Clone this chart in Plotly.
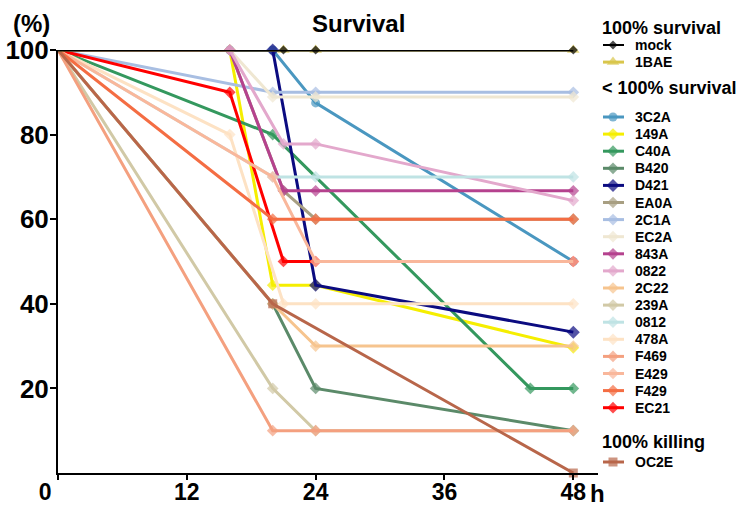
import plotly.graph_objects as go

# Sampling times (h) and survival (%) per isolate
mock_t = [0, 21, 24, 48];        mock_v = [100, 100, 100, 100]
bae_t = [0, 21, 24, 48];         bae_v = [100, 100, 100, 100]
c3c2a_t = [0, 16, 20, 24, 48];   c3c2a_v = [100, 100, 100, 87.5, 50]
a149_t = [0, 16, 20, 24, 48];    a149_v = [100, 100, 44.4, 44.4, 29.6]
c40a_t = [0, 20, 44, 48];        c40a_v = [100, 80, 20, 20]
b420_t = [0, 20, 24, 48];        b420_v = [100, 40, 20, 10]
d421_t = [0, 20, 24, 48];        d421_v = [100, 100, 44.4, 33.3]
ea0a_t = [0, 16, 21, 24, 48];    ea0a_v = [100, 100, 66.7, 60, 60]
c2c1a_t = [0, 20, 24, 48];       c2c1a_v = [100, 90, 90, 90]
ec2a_t = [0, 16, 20, 24, 48];    ec2a_v = [100, 100, 88.9, 88.9, 88.9]
a843_t = [0, 16, 21, 24, 48];    a843_v = [100, 100, 66.7, 66.7, 66.7]
n0822_t = [0, 16, 21, 24, 48];   n0822_v = [100, 100, 77.8, 77.8, 64.4]
c2c22_t = [0, 20, 24, 48];       c2c22_v = [100, 40, 30, 30]
a239_t = [0, 20, 24, 48];        a239_v = [100, 20, 10, 10]
n0812_t = [0, 20, 24, 48];       n0812_v = [100, 70, 70, 70]
a478_t = [0, 16, 21, 24, 48];    a478_v = [100, 80, 40, 40, 40]
f469_t = [0, 20, 24, 48];        f469_v = [100, 10, 10, 10]
e429_t = [0, 20, 24, 48];        e429_v = [100, 70, 50, 50]
f429_t = [0, 20, 24, 48];        f429_v = [100, 60, 60, 60]
ec21_t = [0, 16, 21, 24, 48];    ec21_v = [100, 90, 50, 50, 50]
oc2e_t = [0, 20, 48];            oc2e_v = [100, 40, 0]

x_ticks = [0, 12, 24, 36, 48]
x_ticktext = ["0\u00a0\u00a0\u00a0\u00a0", "12", "24", "36", "48"]
y_ticks = [20, 40, 60, 80, 100]

G1 = "100% survival"
G2 = "< 100% survival"
G3 = "100% killing"
groups = [G1, G2, G3]

# name -> (times, values, colour, symbol, marker size, group)
series = {
    "mock": (mock_t, mock_v, "#000000", "diamond", 7, G1),
    "1BAE": (bae_t, bae_v, "#d9c64c", "triangle-up", 11, G1),
    "3C2A": (c3c2a_t, c3c2a_v, "#4a97c0", "circle", 9, G2),
    "149A": (a149_t, a149_v, "#f5ee00", "diamond", 9, G2),
    "C40A": (c40a_t, c40a_v, "#34985e", "diamond", 9, G2),
    "B420": (b420_t, b420_v, "#5b8a69", "diamond", 9, G2),
    "D421": (d421_t, d421_v, "#0b0b80", "diamond", 10, G2),
    "EA0A": (ea0a_t, ea0a_v, "#a89f82", "diamond", 9, G2),
    "2C1A": (c2c1a_t, c2c1a_v, "#a8bee2", "diamond", 9, G2),
    "EC2A": (ec2a_t, ec2a_v, "#efe7d2", "diamond", 9, G2),
    "843A": (a843_t, a843_v, "#b5428e", "diamond", 9, G2),
    "0822": (n0822_t, n0822_v, "#e3a8cc", "diamond", 9, G2),
    "2C22": (c2c22_t, c2c22_v, "#f6c48e", "diamond", 9, G2),
    "239A": (a239_t, a239_v, "#d1c9a6", "diamond", 9, G2),
    "0812": (n0812_t, n0812_v, "#bfe3e4", "diamond", 9, G2),
    "478A": (a478_t, a478_v, "#fde2c4", "diamond", 9, G2),
    "F469": (f469_t, f469_v, "#f4a07f", "diamond", 9, G2),
    "E429": (e429_t, e429_v, "#f9b79b", "diamond", 9, G2),
    "F429": (f429_t, f429_v, "#f46d43", "diamond", 9, G2),
    "EC21": (ec21_t, ec21_v, "#ff0000", "diamond", 9, G2),
    "OC2E": (oc2e_t, oc2e_v, "#b8664a", "square", 9, G3),
}
legend_order = list(series.keys())
# stacking: later entries are drawn on top
draw_order = [n for n in legend_order if n not in ("mock", "1BAE", "EC21", "E429", "F429", "OC2E")]
draw_order += ["EC21", "E429", "F429", "OC2E", "1BAE", "mock"]

W, H = 745, 506
ML, MT, MB = 58, 10, 33
PLOT_RIGHT = 598                      # right edge of the plotting area (px)
PLOT_TOP = 50                         # top of the plotting area (px)
paper_w, paper_h = W - ML, H - MT - MB
plot_frac_x = (PLOT_RIGHT - ML) / paper_w
plot_frac_y = (H - MB - PLOT_TOP) / paper_h

FONT = "Liberation Sans, Arial, sans-serif"

fig = go.Figure()
for name in draw_order:
    t, v, col, sym, size, grp = series[name]
    fig.add_trace(go.Scatter(
        x=t, y=v, name=name, mode="lines+markers", xaxis="x", yaxis="y",
        line=dict(color=col, width=3),
        marker=dict(symbol=sym, color=col, size=[0] + [size] * (len(t) - 1),
                    line=dict(width=0)),
        cliponaxis=False, showlegend=False,
    ))

# Key panel to the right, on a pixel-scaled helper axis pair
head_y = {G1: 28, G2: 88, G3: 442}
first_gap = {G1: 17, G2: 29, G3: 20}
step = 17.1
sw_x0, sw_xm, sw_x1, txt_x, head_x = 603, 613, 624, 633, 600

annotations = []
for grp in groups:
    annotations.append(dict(
        text=grp, xref="x2", yref="y2", x=head_x, y=head_y[grp],
        xanchor="left", yanchor="middle", showarrow=False,
        font=dict(size=18, weight="bold", family=FONT, color="black")))
    members = [n for n in legend_order if series[n][5] == grp]
    for k, name in enumerate(members):
        _, _, col, sym, size, _ = series[name]
        yy = head_y[grp] + first_gap[grp] + k * step
        fig.add_trace(go.Scatter(
            x=[sw_x0, sw_xm, sw_x1], y=[yy, yy, yy], mode="lines+markers",
            xaxis="x2", yaxis="y2", hoverinfo="skip", showlegend=False,
            line=dict(color=col, width=3 if name != "mock" else 2),
            marker=dict(symbol=sym, color=col, size=[0, size, 0], line=dict(width=0)),
            cliponaxis=False,
        ))
        annotations.append(dict(
            text=name, xref="x2", yref="y2", x=txt_x, y=yy,
            xanchor="left", yanchor="middle", showarrow=False,
            font=dict(size=14, weight="bold", family=FONT, color="black")))

annotations += [
    dict(text="Survival", xref="paper", yref="paper",
         x=(358 - ML) / paper_w, y=(H - MB - 23) / paper_h,
         xanchor="center", yanchor="middle", showarrow=False,
         font=dict(size=24, weight="bold", family=FONT)),
    dict(text="(%)", xref="paper", yref="paper",
         x=(31 - ML) / paper_w, y=(H - MB - 23) / paper_h,
         xanchor="center", yanchor="middle", showarrow=False,
         font=dict(size=24, weight="bold", family=FONT)),
    dict(text="h", xref="paper", yref="paper",
         x=(588 - ML) / paper_w, y=(H - MB - 493) / paper_h,
         xanchor="left", yanchor="middle", showarrow=False,
         font=dict(size=24, weight="bold", family=FONT)),
]

fig.update_layout(
    width=W, height=H,
    margin=dict(l=ML, r=0, t=MT, b=MB, autoexpand=False),
    plot_bgcolor="white", paper_bgcolor="white",
    font=dict(family=FONT, color="black"),
    showlegend=False,
    xaxis=dict(
        domain=[0, plot_frac_x], anchor="y", automargin=False,
        range=[0, 50.3], tickvals=x_ticks, ticktext=x_ticktext,
        showgrid=False, zeroline=False, showline=True, linecolor="black",
        linewidth=2, ticks="outside", ticklen=5, tickwidth=2, tickcolor="black",
        tickfont=dict(size=23, weight="bold"), ticklabelstandoff=-8,
    ),
    yaxis=dict(
        domain=[0, plot_frac_y], anchor="x", automargin=False,
        range=[0, 100], tickvals=y_ticks, ticktext=[str(v) for v in y_ticks],
        showgrid=False, zeroline=False, showline=True, linecolor="black",
        linewidth=2, ticks="outside", ticklen=6, tickwidth=2, tickcolor="black",
        tickfont=dict(size=26, weight="bold"), ticklabelstandoff=-4,
    ),
    xaxis2=dict(domain=[plot_frac_x, 1], anchor="y2", range=[PLOT_RIGHT, W],
                visible=False, fixedrange=True, automargin=False),
    yaxis2=dict(domain=[0, 1], anchor="x2", range=[H - MB, MT],
                visible=False, fixedrange=True, automargin=False),
    annotations=annotations,
)

fig.write_html("out.html")
